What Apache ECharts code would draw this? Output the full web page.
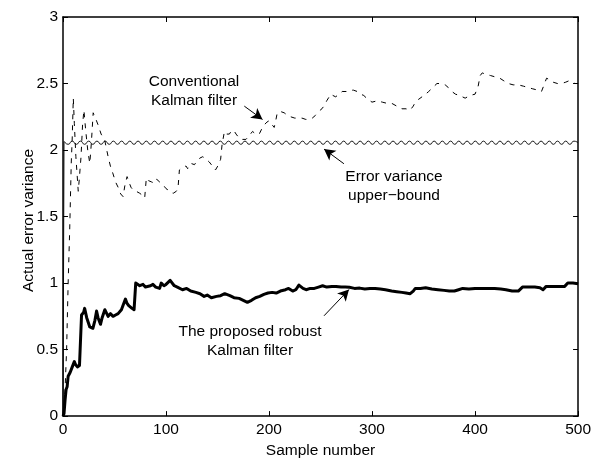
<!DOCTYPE html>
<html>
<head>
<meta charset="utf-8">
<style>
  html, body { margin: 0; padding: 0; background: #fff; }
  #main { width: 594px; height: 464px; }
</style>
<script src="https://cdn.jsdelivr.net/npm/echarts@6/dist/echarts.min.js"></script>
</head>
<body>
<div id="main"></div>
<script>
// ---- data ----
var xTicks = [0, 100, 200, 300, 400, 500];
var yTicks = [0, 0.5, 1, 1.5, 2, 2.5, 3];

// proposed robust Kalman filter (thick solid)
var robustX = [0, 1, 2, 3, 4, 5, 7, 9, 11, 12, 14, 16, 17, 18, 20, 21, 23, 26, 29, 31,
  32.6, 34, 36.4, 38, 40.6, 43.8, 46, 48.6, 51, 53.5, 56.7, 58, 60.6, 62, 63.8, 67, 69, 70.6, 72, 74.5,
  77.7, 80, 81.9, 85, 87.3, 90, 93.8, 95.4, 98, 100, 104, 108, 111, 116, 120, 124, 129, 133, 137, 140,
  144, 149, 153, 157, 162, 166, 171, 175, 179, 183, 187, 191, 195, 199, 203, 207, 211, 216, 219, 223,
  226, 229, 233, 236, 240, 244, 248, 252, 256, 261, 265, 270, 274, 278, 283, 288, 293, 298, 303, 308,
  313, 319, 324, 329, 333, 337, 340, 342, 347, 352, 358, 364, 370, 375, 380, 384, 388, 394, 400, 406,
  412, 419, 425, 430, 436, 442, 446, 452, 458, 463, 466, 469, 475, 481, 487, 490, 495, 500];
var robustY = [0, 0.02, 0.12, 0.2, 0.22, 0.3, 0.33, 0.37, 0.41, 0.39, 0.37, 0.38, 0.37, 0.76, 0.78, 0.81, 0.74, 0.67, 0.66, 0.72,
  0.79, 0.74, 0.69, 0.74, 0.80, 0.75, 0.77, 0.75, 0.76, 0.77, 0.80, 0.79, 0.88, 0.85, 0.83, 0.81, 0.80, 1.0, 0.99, 0.98,
  0.99, 0.97, 0.98, 0.98, 0.99, 0.97, 0.96, 1.0, 0.98, 0.99, 1.02, 0.98, 0.97, 0.95, 0.96, 0.94, 0.93, 0.92, 0.90, 0.91,
  0.89, 0.9, 0.905, 0.92, 0.905, 0.89, 0.885, 0.87, 0.855, 0.87, 0.89, 0.9, 0.915, 0.925, 0.93, 0.925, 0.94, 0.95, 0.96, 0.94,
  0.95, 0.985, 0.96, 0.95, 0.96, 0.96, 0.97, 0.98, 0.97, 0.975, 0.975, 0.97, 0.97, 0.968, 0.96, 0.962, 0.955, 0.96, 0.96, 0.955,
  0.95, 0.94, 0.935, 0.93, 0.925, 0.92, 0.94, 0.96, 0.96, 0.965, 0.955, 0.95, 0.945, 0.94, 0.94, 0.95, 0.96, 0.955, 0.96, 0.96,
  0.96, 0.96, 0.955, 0.95, 0.94, 0.94, 0.97, 0.97, 0.97, 0.965, 0.95, 0.975, 0.975, 0.975, 0.975, 1.0, 1.0, 0.995];

// conventional Kalman filter (dashed)
var convX = [0, 2, 3.5, 5, 6.5, 8, 9, 10, 11, 12.5, 14.8, 16, 17.5, 19, 20.3, 22, 24, 26, 27.5, 29.3,
  31, 34, 37, 40.6, 43.8, 46, 48.6, 51, 53.5, 56, 58.3, 60, 62.2, 64, 66, 68, 71, 74.5, 77, 79.3,
  80.9, 83, 86, 89, 91, 93.8, 97, 100, 102, 105, 107, 110, 111.6, 113, 116, 119.4, 121, 124, 127.7, 130,
  133, 135.7, 139, 142, 145, 148, 151, 153, 154.4, 156.7, 159, 161.5, 164, 166.4, 168, 171, 174, 177.6, 181, 184,
  187, 190.5, 193, 195.4, 198, 200, 203, 205, 206.5, 208, 211, 214.7, 218, 221, 225, 229, 232, 235.7, 239, 242,
  245, 247, 250, 253.4, 256, 260, 262, 264.7, 268, 271, 275, 279, 282, 285.6, 289, 292, 296, 300, 305, 310,
  315, 319.4, 324, 329, 333, 337, 340, 342, 345, 348.5, 352, 355, 359, 363, 367, 371, 374, 377.5, 381, 385,
  390.4, 395, 400, 403, 405, 407, 410, 415, 419.4, 424, 428, 432.3, 437, 442, 447, 451.6, 456, 461, 464.5, 467,
  469.4, 472, 475.8, 480, 484, 488, 491, 493.6, 497, 500];
var convY = [0, 0.2, 0.5, 1.0, 1.4, 1.9, 2.1, 2.39, 2.2, 1.95, 1.69, 1.8, 1.95, 2.19, 2.3, 2.15, 2.0, 1.9, 2.05, 2.28,
  2.25, 2.19, 2.12, 2.07, 1.95, 1.88, 1.82, 1.76, 1.72, 1.67, 1.65, 1.73, 1.8, 1.76, 1.72, 1.7, 1.69, 1.675, 1.66, 1.64,
  1.79, 1.77, 1.76, 1.75, 1.78, 1.76, 1.74, 1.71, 1.7, 1.68, 1.675, 1.69, 1.71, 1.85, 1.87, 1.88, 1.86, 1.9, 1.89, 1.92,
  1.94, 1.95, 1.93, 1.91, 1.88, 1.85, 1.89, 1.93, 2.04, 2.14, 2.12, 2.12, 2.15, 2.14, 2.12, 2.09, 2.08, 2.08, 2.11, 2.14,
  2.12, 2.12, 2.16, 2.19, 2.21, 2.22, 2.19, 2.17, 2.22, 2.28, 2.29, 2.28, 2.26, 2.25, 2.24, 2.24, 2.24, 2.23, 2.23, 2.24,
  2.26, 2.28, 2.3, 2.33, 2.37, 2.42, 2.41, 2.4, 2.42, 2.44, 2.44, 2.45, 2.45, 2.44, 2.42, 2.41, 2.38, 2.36, 2.37, 2.36,
  2.35, 2.35, 2.33, 2.31, 2.31, 2.3, 2.33, 2.36, 2.38, 2.4, 2.42, 2.44, 2.47, 2.5, 2.5, 2.49, 2.47, 2.44, 2.42, 2.41,
  2.39, 2.41, 2.42, 2.48, 2.56, 2.58, 2.57, 2.56, 2.55, 2.54, 2.52, 2.5, 2.49, 2.49, 2.48, 2.47, 2.46, 2.45, 2.44, 2.49,
  2.54, 2.53, 2.51, 2.5, 2.5, 2.51, 2.52, 2.51, 2.5, 2.5];

// error variance upper-bound (thin, rippled)
var boundRiseX = [0, 1];
var boundRiseY = [0, 2.06];
var boundStart = 1;
var boundStep = 3.992;
var boundY = [
  2.067, 2.043, 2.067, 2.043, 2.067, 2.043, 2.067, 2.043, 2.067, 2.043,
  2.067, 2.043, 2.067, 2.043, 2.067, 2.043, 2.067, 2.043, 2.067, 2.043,
  2.067, 2.043, 2.067, 2.043, 2.067, 2.043, 2.067, 2.043, 2.067, 2.043,
  2.067, 2.043, 2.067, 2.043, 2.067, 2.043, 2.067, 2.043, 2.067, 2.043,
  2.067, 2.043, 2.067, 2.043, 2.067, 2.043, 2.067, 2.043, 2.067, 2.043,
  2.067, 2.043, 2.067, 2.043, 2.067, 2.043, 2.067, 2.043, 2.067, 2.043,
  2.067, 2.043, 2.067, 2.043, 2.067, 2.043, 2.067, 2.043, 2.067, 2.043,
  2.067, 2.043, 2.067, 2.043, 2.067, 2.043, 2.067, 2.043, 2.067, 2.043,
  2.067, 2.043, 2.067, 2.043, 2.067, 2.043, 2.067, 2.043, 2.067, 2.043,
  2.067, 2.043, 2.067, 2.043, 2.067, 2.043, 2.067, 2.043, 2.067, 2.043,
  2.067, 2.043, 2.067, 2.043, 2.067, 2.043, 2.067, 2.043, 2.067, 2.043,
  2.067, 2.043, 2.067, 2.043, 2.067, 2.043, 2.067, 2.043, 2.067, 2.043,
  2.067, 2.043, 2.067, 2.043, 2.067, 2.055];

// annotation arrows, [tail, head] in data units
var arrowConv = [[176, 2.33], [193.7, 2.23]];
var arrowBound = [[272.7, 1.897], [253.4, 2.007]];
var arrowRobust = [[253.4, 0.754], [277.6, 0.951]];

function pairs(xs, ys) {
  return xs.map(function (x, i) { return [x, ys[i]]; });
}
var boundData = boundY.map(function (v, i) { return [boundStart + i * boundStep, v]; });

var FONT = '"Liberation Sans", Arial, Helvetica, sans-serif';
var FS = 15.5;

var chart = echarts.init(document.getElementById('main'));

var axisLine = { show: true, onZero: false, lineStyle: { color: '#000', width: 1.5 } };
var tickIn = { show: true, inside: true, length: 5, lineStyle: { color: '#000', width: 1 } };

var option = {
  animation: false,
  backgroundColor: '#fff',
  grid: { left: 63, right: 14, top: 17, bottom: 40, containLabel: false },
  xAxis: [{
    type: 'value', position: 'bottom', min: 0, max: 500, interval: 100,
    axisLine: axisLine, axisTick: tickIn, splitLine: { show: false },
    axisLabel: { color: '#000', fontFamily: FONT, fontSize: FS, margin: 6 },
    name: 'Sample number', nameLocation: 'middle', nameGap: 23,
    nameTextStyle: { color: '#000', fontFamily: FONT, fontSize: FS }
  }, {
    type: 'value', position: 'top', min: 0, max: 500, interval: 100,
    axisLine: axisLine, axisTick: tickIn, splitLine: { show: false },
    axisLabel: { show: false }
  }],
  yAxis: [{
    type: 'value', position: 'left', min: 0, max: 3, interval: 0.5,
    axisLine: axisLine, axisTick: tickIn, splitLine: { show: false },
    axisLabel: {
      color: '#000', fontFamily: FONT, fontSize: FS, margin: 5,
      formatter: function (v) { return String(v); }
    }
  }, {
    type: 'value', position: 'right', min: 0, max: 3, interval: 0.5,
    axisLine: axisLine, axisTick: tickIn, splitLine: { show: false },
    axisLabel: { show: false }
  }],
  series: [
    {
      name: 'Error variance upper-bound', type: 'line', smooth: 0.6,
      data: boundData, showSymbol: false, silent: true,
      lineStyle: { color: '#000', width: 0.9 }
    },
    {
      name: 'bound rise', type: 'line',
      data: pairs(boundRiseX, boundRiseY), showSymbol: false, silent: true,
      lineStyle: { color: '#000', width: 0.9 },
      markLine: {
        silent: true, animation: false,
        symbol: ['none', 'arrow'], symbolSize: [9, 11],
        label: { show: false },
        lineStyle: { color: '#000', width: 1, type: 'solid' },
        emphasis: { disabled: true },
        data: [
          [{ coord: arrowConv[0] }, { coord: arrowConv[1] }],
          [{ coord: arrowBound[0] }, { coord: arrowBound[1] }],
          [{ coord: arrowRobust[0] }, { coord: arrowRobust[1] }]
        ]
      }
    },
    {
      name: 'Conventional Kalman filter', type: 'line',
      data: pairs(convX, convY), showSymbol: false, silent: true,
      lineStyle: { color: '#000', width: 1, type: [5, 6] }
    },
    {
      name: 'The proposed robust Kalman filter', type: 'line',
      data: pairs(robustX, robustY), showSymbol: false, silent: true,
      lineStyle: { color: '#000', width: 3, join: 'round' }
    }
  ],
  graphic: [
    {
      type: 'text', x: 29, y: 220.5, rotation: Math.PI / 2,
      style: { text: 'Actual error variance', fill: '#000', font: FS + 'px ' + FONT, align: 'center', verticalAlign: 'middle' }
    },
    {
      type: 'text', x: 194, y: 91,
      style: { text: 'Conventional\nKalman filter', fill: '#000', font: FS + 'px ' + FONT, align: 'center', verticalAlign: 'middle', lineHeight: 19 }
    },
    {
      type: 'text', x: 394, y: 186,
      style: { text: 'Error variance\nupper\u2212bound', fill: '#000', font: FS + 'px ' + FONT, align: 'center', verticalAlign: 'middle', lineHeight: 19 }
    },
    {
      type: 'text', x: 250, y: 341,
      style: { text: 'The proposed robust\nKalman filter', fill: '#000', font: FS + 'px ' + FONT, align: 'center', verticalAlign: 'middle', lineHeight: 19 }
    }
  ]
};

chart.setOption(option);
</script>
</body>
</html>
